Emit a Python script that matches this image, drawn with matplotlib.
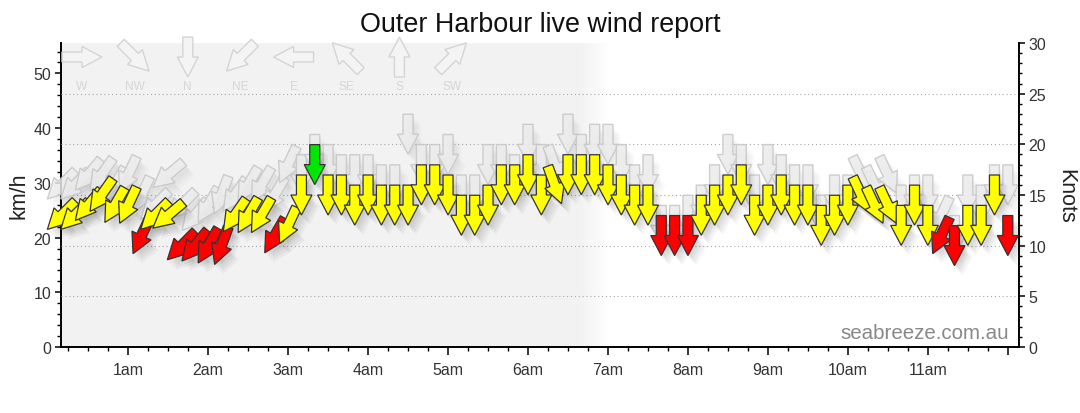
import numpy as np
import matplotlib.pyplot as plt
from matplotlib.patches import Polygon
from matplotlib.ticker import MultipleLocator
from matplotlib.transforms import Affine2D, ScaledTranslation

plt.rcParams['font.family'] = ['Liberation Sans', 'DejaVu Sans']

# 10 minute reports, 00:10 .. 12:00. speeds in knots, direction = where wind comes from
first_report = 10      # minutes after midnight
report_step = 10
wind_kt = [13, 13, 14, 15, 14, 14, 11, 13, 13, 10, 10, 10, 10, 13, 13, 13, 11, 12,
           15, 18, 15, 15, 14, 15, 14, 14, 14, 16, 16, 15, 13, 13, 14, 16, 16, 17,
           15, 16, 17, 17, 17, 16, 15, 14, 14, 11, 11, 11, 13, 14, 15, 16, 13, 14,
           15, 14, 14, 12, 13, 14, 15, 14, 14, 12, 14, 12, 11, 10, 12, 12, 15, 11]
gust_kt = [16, 16, 17, 17, 16, 17, 15, 14, 17, 14, 13, 14, 15, 15, 16, 16, 15, 18,
           17, 19, 18, 17, 17, 17, 16, 16, 21, 18, 18, 19, 15, 15, 18, 18, 17, 20,
           18, 18, 21, 19, 20, 20, 18, 16, 17, 12, 12, 13, 14, 16, 19, 18, 15, 18,
           17, 16, 16, 13, 15, 15, 17, 16, 17, 14, 15, 15, 13, 11, 15, 14, 16, 16]
wind_dir = [45, 45, 40, 35, 30, 25, 25, 45, 50, 45, 40, 30, 20, 35, 30, 30, 30, 25,
            0, 0, 0, 0, 0, 0, 0, 0, 0, 0, 0, 0, 0, 0, 0, 0, 0, 0,
            0, 340, 0, 0, 0, 0, 0, 0, 0, 0, 0, 0, 0, 0, 0, 0, 0, 0,
            0, 0, 0, 0, 0, 0, 335, 335, 335, 0, 0, 0, 25, 0, 0, 0, 0, 0]

speed_bands = [12, 18]                      # knots where colour changes
band_colours = ['#ff0000', '#ffff00', '#00e600']

compass_labels = ['W', 'NW', 'N', 'NE', 'E', 'SE', 'S', 'SW']
compass_dirs = [270, 315, 0, 45, 90, 135, 180, 225]

hour_ticks = list(range(1, 13))
hour_labels = ['1am', '2am', '3am', '4am', '5am', '6am', '7am', '8am', '9am', '10am', '11am', '']
grid_knots = [5, 10, 15, 20, 25]
KMH = 1.852

hours = (first_report + report_step * np.arange(len(wind_kt))) / 60

fig = plt.figure(figsize=(10.8, 4.14), dpi=100)
ax = fig.add_axes([61 / 1080, 1 - 348 / 414, 958 / 1080, 304 / 414])
ax2 = ax.twinx()
ax.set_xlim(0.16, 12.14)
ax.set_ylim(0, 30 * KMH)
ax2.set_ylim(0, 30)

# night shading with soft edge at dawn
night_end, fade_end = 6.65, 7.0
ax.axvspan(0, night_end, color='#f2f2f2', lw=0, zorder=0)
nfade = 14
for k in range(nfade):
    a = night_end + (fade_end - night_end) * k / nfade
    b = night_end + (fade_end - night_end) * (k + 1) / nfade
    ax.axvspan(a, b, color='#f2f2f2', alpha=1 - (k + 0.5) / nfade, lw=0, zorder=0)

for g in grid_knots:
    ax2.axhline(g, color='#a8a8a8', lw=0.8, ls=(0, (1, 2.5)), zorder=0.5)

# arrow shape in pixels (pointing down = wind from north), converted to inches
SHAPE = np.array([(-5, 20), (5, 20), (5, 0), (10.5, 0), (0, -20), (-10.5, 0), (-5, 0)]) / 100


def arrow(x, y, deg, base, dx=0, dy=0, **kw):
    tr = (Affine2D().rotate_deg(-deg).translate(dx / 100, dy / 100)
          + fig.dpi_scale_trans + ScaledTranslation(x, y, base))
    ax2.add_artist(Polygon(SHAPE, closed=True, transform=tr, clip_on=False, **kw))


shadow_offsets = [(2, -4), (4, -6), (6, -8), (8, -10)]

for h, g, d in zip(hours, gust_kt, wind_dir):
    for ox, oy in shadow_offsets:
        arrow(h, g, d, ax2.transData, ox, oy, fc='k', ec='none', alpha=0.018, zorder=1)
for h, g, d in zip(hours, gust_kt, wind_dir):
    arrow(h, g, d, ax2.transData, fc='#ececec', ec='#c6c6c6', lw=1.0, alpha=0.85, zorder=2)

for h, w, d in zip(hours, wind_kt, wind_dir):
    for ox, oy in shadow_offsets:
        arrow(h, w, d, ax2.transData, ox, oy, fc='k', ec='none', alpha=0.04, zorder=3)
for h, w, d in zip(hours, wind_kt, wind_dir):
    c = band_colours[int(np.searchsorted(speed_bands, w, side='right'))]
    arrow(h, w, d, ax2.transData, fc=c, ec='#333333', lw=0.9, zorder=4)

# compass key, top left
for i, (lab, d) in enumerate(zip(compass_labels, compass_dirs)):
    xf = (82 + 52.9 * i) / 1080
    arrow(xf, 1 - 58 / 414, d, fig.transFigure, fc='#f4f4f4', ec='#d4d4d4', lw=1.0, zorder=1)
    fig.text(xf, 1 - 87 / 414, lab, ha='center', va='center', color='#d6d6d6', fontsize=8.6)

# axes styling
for s in ['top', 'right']:
    ax.spines[s].set_visible(False)
for s in ['top', 'left', 'bottom']:
    ax2.spines[s].set_visible(False)
for sp in [ax.spines['left'], ax.spines['bottom'], ax2.spines['right']]:
    sp.set_linewidth(1.4)
    sp.set_color('black')

ax.set_xticks(hour_ticks)
ax.set_xticklabels(hour_labels)
ax.xaxis.set_minor_locator(MultipleLocator(0.25))
ax.set_yticks(range(0, 51, 10))
ax.yaxis.set_minor_locator(MultipleLocator(2))
ax2.set_yticks(range(0, 31, 5))
ax2.yaxis.set_minor_locator(MultipleLocator(1))

ax.tick_params(axis='x', which='major', length=6, width=1.1, pad=5, labelsize=11.5, labelcolor='#333333')
ax.tick_params(axis='x', which='minor', length=2.6, width=1.0)
ax.tick_params(axis='y', which='major', length=4, width=1.1, pad=3, labelsize=11.5, labelcolor='#333333')
ax.tick_params(axis='y', which='minor', length=3, width=1.0)
ax2.tick_params(axis='y', which='major', length=4, width=1.1, pad=3, labelsize=11.5, labelcolor='#333333')
ax2.tick_params(axis='y', which='minor', length=2.5, width=1.0)

ax.set_ylabel('km/h', fontsize=15.5, color='#222222', labelpad=3)
ax2.set_ylabel('Knots', rotation=270, va='bottom', fontsize=15.5, color='#222222', labelpad=6)

fig.text(0.5, 1 - 31.5 / 414, 'Outer Harbour live wind report', ha='center', va='baseline',
         fontsize=19.4, color='#111111')
ax.text(0.9896, 0.049, 'seabreeze.com.au', transform=ax.transAxes, ha='right', va='center',
        fontsize=14.8, color='#888888', zorder=5)

fig.savefig('out.png', dpi=100)
